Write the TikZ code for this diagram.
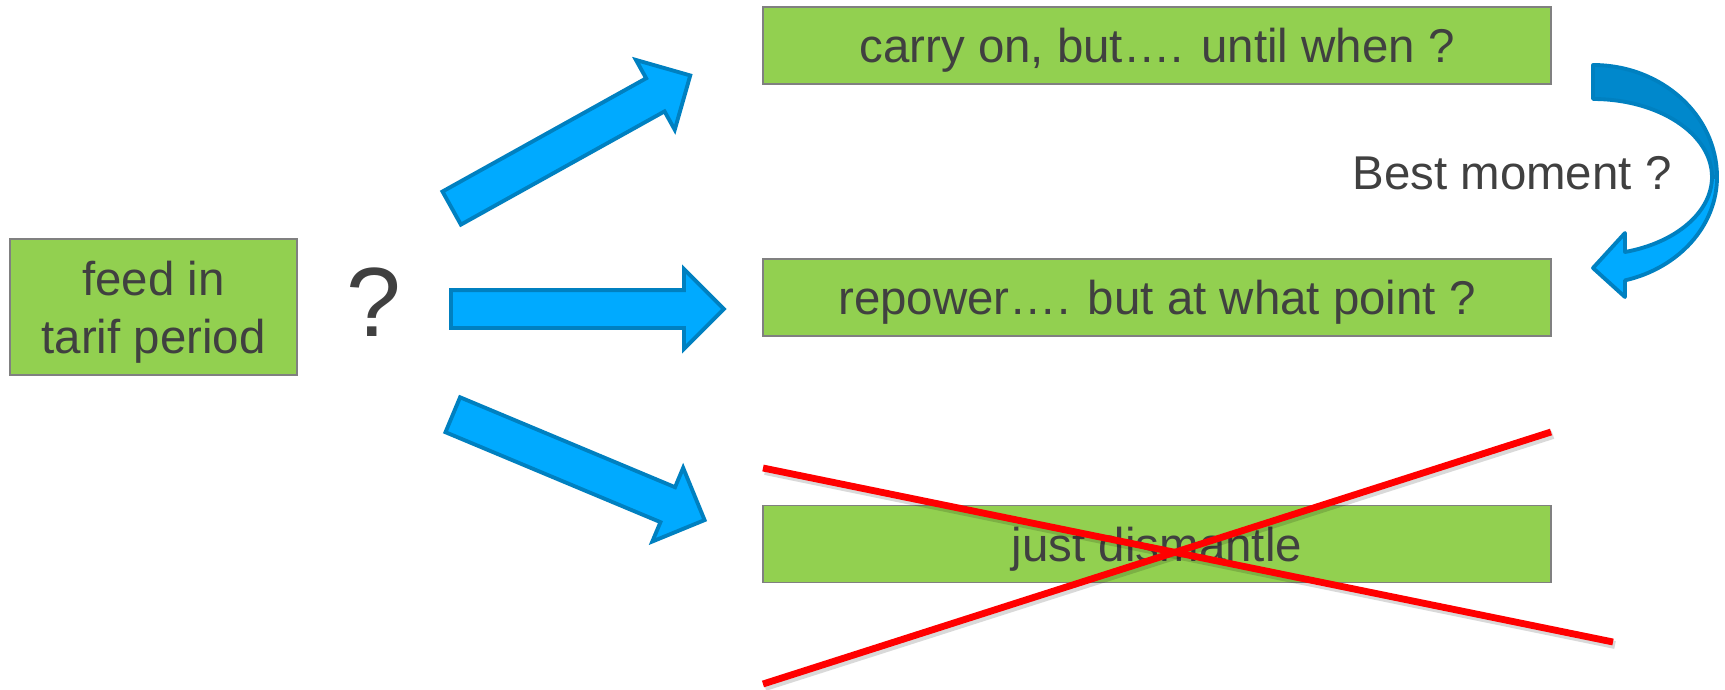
\documentclass[tikz,border=0pt]{standalone}
\usepackage{fontspec}
\setmainfont{Liberation Sans}
\usetikzlibrary{shapes.arrows}
\definecolor{boxgreen}{RGB}{146,208,80}
\definecolor{boxline}{RGB}{128,128,128}
\definecolor{txtgray}{RGB}{64,64,64}
\definecolor{arrowfill}{RGB}{0,170,255}
\definecolor{arrowline}{RGB}{0,128,192}
\definecolor{arrowdark}{RGB}{0,136,204}

\begin{document}
\begin{tikzpicture}[x=0.02cm, y=-0.02cm,
    box/.style = {draw=boxline, line width=1pt, fill=boxgreen, text=txtgray, inner sep=0pt, font=\fontsize{27}{33}\selectfont, align=center, text depth=0pt},
    longbox/.style = {box, minimum width=15.76cm, minimum height=1.54cm},
    label/.style = {text=txtgray, inner sep=0pt, anchor=base},
    bigarrow/.style = {single arrow, draw=arrowline, line width=2.2pt, fill=arrowfill, inner xsep=0pt, inner ysep=0.34cm, minimum height=5.46cm, single arrow head extend=0.42cm, anchor=tail},
    cross/.style = {red, line width=3.9pt},
    crossshadow/.style = {black, opacity=0.15, line width=4.5pt}]
    \useasboundingbox (0,0) rectangle (1725,690);
    \node[box, minimum width=5.74cm, minimum height=2.72cm] (feed) at (153.5,307) {feed in\\tarif period};
    \node[label, font=\fontsize{56}{60}\selectfont] (q) at (374,336) {?};
    \node[longbox] (carry) at (1157,45.5) {carry on, but…. until when ?};
    \node[longbox] (repower) at (1157,297.5) {repower…. but at what point ?};
    \node[longbox] (dismantle) at (1157,544) {just dismantle};
    \node[label, font=\fontsize{27}{33}\selectfont] (best) at (1512,189) {Best moment ?};
    % three choices
    \node[bigarrow, rotate=29.07] (up) at (450,209) {};
    \node[bigarrow] (straight) at (449,309) {};
    \node[bigarrow, rotate=-22.7] (down) at (451,414) {};
    % curved arrow from carry on to repower
    \draw[arrowline, line width=2.2pt, fill=arrowdark, line join=round] (1593,65) arc[start angle=-90, end angle=0, x radius=124, y radius=112] -- (1712,177) arc[start angle=0, end angle=-90, x radius=119, y radius=78] -- cycle;
    \draw[arrowline, line width=2.2pt, fill=arrowfill, line join=round] (1717,177) arc[start angle=0, end angle=75.04, x radius=124, y radius=107] -- (1625,297) -- (1593,268) -- (1625,233) -- (1625,252) arc[start angle=74.4, end angle=0, x radius=119, y radius=78] -- cycle;
    % crossed out
    \draw[crossshadow] (765,471) -- (1615,645);
    \draw[crossshadow] (765,687) -- (1553,435);
    \draw[cross] (763,468) -- (1613,642);
    \draw[cross] (763,684) -- (1551,432);
\end{tikzpicture}
\end{document}
